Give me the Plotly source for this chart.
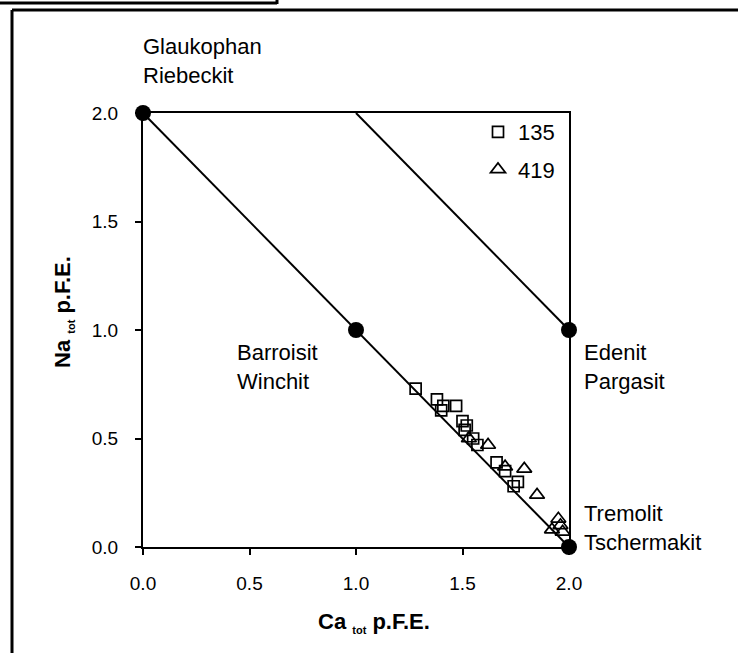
import plotly.graph_objects as go

# ---- data ----
ca_135 = [1.28, 1.38, 1.41, 1.40, 1.47, 1.50, 1.52, 1.51, 1.55, 1.57, 1.66, 1.70, 1.76, 1.74]
na_135 = [0.73, 0.68, 0.65, 0.63, 0.65, 0.58, 0.56, 0.54, 0.50, 0.47, 0.39, 0.35, 0.30, 0.28]
ca_419 = [1.53, 1.62, 1.70, 1.79, 1.85, 1.95, 1.92, 1.97, 1.96]
na_419 = [0.50, 0.47, 0.37, 0.36, 0.24, 0.13, 0.08, 0.07, 0.10]

line1_x = [0, 2]
line1_y = [2, 0]
line2_x = [1, 2]
line2_y = [2, 1]
node_x = [0, 1, 2, 2]
node_y = [2, 1, 1, 0]

tick_vals = [0.0, 0.5, 1.0, 1.5, 2.0]
tick_text = ["0.0", "0.5", "1.0", "1.5", "2.0"]

field_labels = ["Glaukophan<br>Riebeckit", "Barroisit<br>Winchit",
                "Edenit<br>Pargasit", "Tremolit<br>Tschermakit"]

SUB = '<sub><span style="font-size:11px">tot</span></sub>'
x_title = f"<b>Ca {SUB} p.F.E.</b>"
y_title = f"<b>Na {SUB} p.F.E.</b>"

# ---- layout geometry (pixels) ----
W, H = 738, 653
L, R, T, B = 143, 569, 113, 547
pw, ph = R - L, B - T

def px(x):
    return (x - L) / pw

def py(y):
    return (B - y) / ph

FONT = "Liberation Sans, Arial, sans-serif"

fig = go.Figure()

fig.add_trace(go.Scatter(x=line1_x, y=line1_y, mode="lines",
                         line=dict(color="black", width=2), showlegend=False,
                         hoverinfo="skip", cliponaxis=False))
fig.add_trace(go.Scatter(x=line2_x, y=line2_y, mode="lines",
                         line=dict(color="black", width=2), showlegend=False,
                         hoverinfo="skip", cliponaxis=False))

fig.add_trace(go.Scatter(x=ca_135, y=na_135, mode="markers", name="135", legendgroup="a",
                         marker=dict(symbol="square-open", size=11, color="black",
                                     line=dict(width=1.7, color="black")),
                         cliponaxis=False))
fig.add_trace(go.Scatter(x=ca_419, y=na_419, mode="markers", name="419", legendgroup="b",
                         marker=dict(symbol="triangle-up-open", size=13, color="black",
                                     line=dict(width=1.7, color="black")),
                         cliponaxis=False))

fig.add_trace(go.Scatter(x=node_x, y=node_y, mode="markers",
                         marker=dict(symbol="circle", size=16, color="black"),
                         showlegend=False, cliponaxis=False))

# text labels (positions in pixels)
label_pos = [(141, 61), (235, 367), (582, 367), (582, 528)]
annotations = []
for txt, (x, y) in zip(field_labels, label_pos):
    annotations.append(dict(x=px(x), y=py(y), xref="paper", yref="paper",
                            text=txt, showarrow=False, xanchor="left", yanchor="middle",
                            align="left", font=dict(family=FONT, size=22, color="black")))

# axis titles
annotations.append(dict(x=px(374), y=py(622), xref="paper", yref="paper", text=x_title,
                        showarrow=False, xanchor="center", yanchor="middle",
                        font=dict(family=FONT, size=22, color="black")))
annotations.append(dict(x=px(63), y=py(312), xref="paper", yref="paper", text=y_title,
                        showarrow=False, xanchor="center", yanchor="middle", textangle=-90,
                        font=dict(family=FONT, size=22, color="black")))

shapes = [
    # outer frame
    dict(type="line", xref="paper", yref="paper", x0=px(12), y0=py(10), x1=px(12), y1=py(653),
         line=dict(color="black", width=3)),
    dict(type="line", xref="paper", yref="paper", x0=px(12), y0=py(10), x1=px(738), y1=py(10),
         line=dict(color="black", width=3)),
    # top-left box remnant
    dict(type="line", xref="paper", yref="paper", x0=px(0), y0=py(3), x1=px(277), y1=py(3),
         line=dict(color="black", width=3)),
    dict(type="line", xref="paper", yref="paper", x0=px(277), y0=py(0), x1=px(277), y1=py(4),
         line=dict(color="black", width=3)),
]

axis_common = dict(range=[0, 2], tickvals=tick_vals, ticktext=tick_text,
                   showgrid=False, zeroline=False, showline=True, linecolor="black",
                   linewidth=2, mirror=True, ticks="outside", ticklen=6, tickwidth=2,
                   tickcolor="black", tickfont=dict(family=FONT, size=19, color="black"))

fig.update_layout(
    width=W, height=H,
    margin=dict(l=L, r=W - R, t=T, b=H - B, pad=0),
    paper_bgcolor="white", plot_bgcolor="white",
    xaxis=dict(**axis_common, ticklabelstandoff=12),
    yaxis=dict(**axis_common, ticklabelstandoff=13),
    legend=dict(x=px(560), y=py(111), xanchor="right", yanchor="top",
                bgcolor="rgba(0,0,0,0)", borderwidth=0, itemwidth=30,
                traceorder="grouped", tracegroupgap=6,
                font=dict(family=FONT, size=22, color="black")),
    annotations=annotations,
    shapes=shapes,
    showlegend=True,
)

fig.write_html("out.html")
